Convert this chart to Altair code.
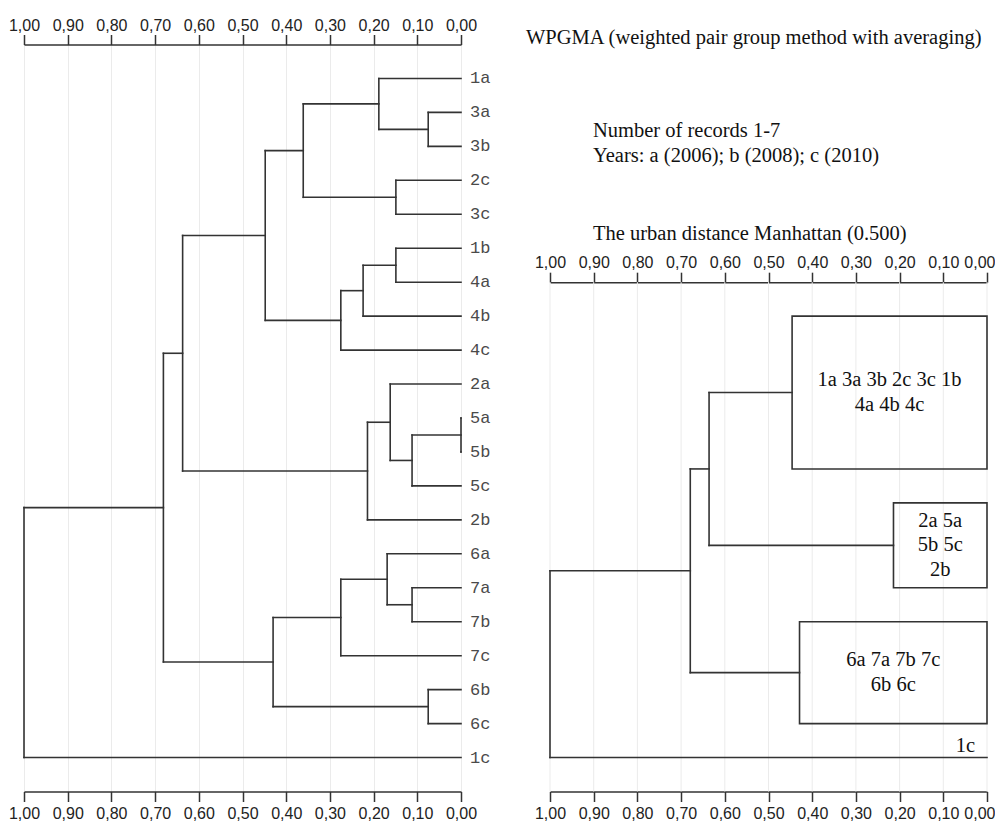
import altair as alt
import pandas as pd

# ---------------- data ----------------
tick_values = [1.0, 0.9, 0.8, 0.7, 0.6, 0.5, 0.4, 0.3, 0.2, 0.1, 0.0]

leaves = ["1a", "3a", "3b", "2c", "3c", "1b", "4a", "4b", "4c", "2a", "5a",
          "5b", "5c", "2b", "6a", "7a", "7b", "7c", "6b", "6c", "1c"]
merge_left = ["5a", "3a", "6b", "m0", "7a", "2c", "1b", "2a", "6a", "1a",
              "m7", "m6", "m11", "m8", "m9", "m13", "m14", "m16", "m17", "m18"]
merge_right = ["5b", "3b", "6c", "5c", "7b", "3c", "4a", "m3", "m4", "m1",
               "2b", "4b", "4c", "7c", "m5", "m2", "m12", "m10", "m15", "1c"]
merge_height = [0.0, 0.075, 0.075, 0.112, 0.112, 0.149, 0.149, 0.162, 0.169, 0.188,
                0.214, 0.224, 0.275, 0.275, 0.361, 0.430, 0.448, 0.637, 0.681, 1.0]

group_labels = ["1a 3a 3b 2c 3c 1b\n4a 4b 4c", "2a 5a\n5b 5c\n2b", "6a 7a 7b 7c\n6b 6c"]
group_height = [0.446, 0.214, 0.429]
group_top = [1.0, 6.5, 10.0]
group_bottom = [5.5, 9.0, 13.0]
outlier = "1c"
outlier_row = 14
rmerge_left = ["g0", "n0", "n1"]
rmerge_right = ["g1", "g2", "1c"]
rmerge_height = [0.636, 0.679, 1.0]

notes = ["WPGMA (weighted pair group method with averaging)",
         "Number of records 1-7\nYears: a (2006); b (2008); c (2010)",
         "The urban distance Manhattan (0.500)"]

# ---------------- layout constants ----------------
W, H = 437, 747
ROWS = 22
UNIT = H / ROWS          # pixels per row unit
LINE = "#333333"
SW = 1.6

# ---------------- tables ----------------
pos = {name: (0.0, i + 1) for i, name in enumerate(leaves)}
segs = []
for k, (a, b, h) in enumerate(zip(merge_left, merge_right, merge_height)):
    ha, ya = pos[a]
    hb, yb = pos[b]
    segs.append(dict(x=ha, x2=h, y=ya, y2=ya))
    segs.append(dict(x=hb, x2=h, y=yb, y2=yb))
    segs.append(dict(x=h, x2=h, y=ya, y2=yb))
    pos[f"m{k}"] = (h, (ya + yb) / 2)
seg_df = pd.DataFrame(segs)
leaf_df = pd.DataFrame({"name": leaves, "h": [0.0] * len(leaves),
                        "y": list(range(1, len(leaves) + 1))})

rpos = {f"g{i}": (group_height[i], (group_top[i] + group_bottom[i]) / 2)
        for i in range(len(group_labels))}
rpos[outlier] = (0.0, outlier_row)
rsegs = []
for k, (a, b, h) in enumerate(zip(rmerge_left, rmerge_right, rmerge_height)):
    ha, ya = rpos[a]
    hb, yb = rpos[b]
    rsegs.append(dict(x=ha, x2=h, y=ya, y2=ya))
    rsegs.append(dict(x=hb, x2=h, y=yb, y2=yb))
    rsegs.append(dict(x=h, x2=h, y=ya, y2=yb))
    rpos[f"n{k}"] = (h, (ya + yb) / 2)
rseg_df = pd.DataFrame(rsegs)
box_df = pd.DataFrame({"x": group_height, "x2": [0.0] * len(group_labels),
                       "y": group_top, "y2": group_bottom})

# one row per text line inside the boxes, centred on the box
line_gap = 24.5 / UNIT
box_lines = []
for lab, h, t, b in zip(group_labels, group_height, group_top, group_bottom):
    parts = lab.split("\n")
    n = len(parts)
    for j, p in enumerate(parts):
        box_lines.append(dict(t=p, cx=h / 2, cy=(t + b) / 2 + (j - (n - 1) / 2) * line_gap))
box_text_df = pd.DataFrame(box_lines)
out_df = pd.DataFrame({"name": [outlier], "h": [0.0], "y": [outlier_row]})
tick_df = pd.DataFrame({"v": tick_values})

# ---------------- styling ----------------
xscale = alt.Scale(domain=[1.0, 0.0], nice=False, zero=False)
yl = alt.Scale(domain=[0, ROWS], reverse=True, nice=False, zero=False)
yr = alt.Scale(domain=[-7, ROWS - 7], reverse=True, nice=False, zero=False)
label_expr = "replace(format(datum.value, '.2f'), '.', ',')"


def make_axis(orient, grid=False, offset=None, pad=2, flush_last=False):
    kw = dict(orient=orient, values=tick_values, labelExpr=label_expr, title=None,
              grid=grid, gridColor="#ebebeb", gridWidth=1,
              domainColor=LINE, domainWidth=1.5, tickColor=LINE, tickWidth=1.5,
              tickSize=10, labelFont="Liberation Sans", labelFontSize=16,
              labelColor="#222222", labelPadding=pad, labelFlush=False,
              labelOverlap=False)
    if flush_last:
        kw["labelAlign"] = {"condition": {"test": "datum.value == 0", "value": "right"},
                            "value": "center"}
        kw["labelOffset"] = {"condition": {"test": "datum.value == 0", "value": 8},
                             "value": 0}
    if offset is not None:
        kw["offset"] = offset
    return alt.Axis(**kw)


TOP_PAD = 1.5
BOTTOM_PAD = 4

# ---------------- left panel ----------------
left_segs = alt.Chart(seg_df).mark_rule(color=LINE, strokeWidth=SW, strokeCap="square").encode(
    x=alt.X("x:Q", scale=xscale, axis=make_axis("top", pad=TOP_PAD)),
    x2="x2:Q",
    y=alt.Y("y:Q", scale=yl, axis=None),
    y2="y2:Q",
)
left_text = alt.Chart(leaf_df).mark_text(
    align="left", baseline="middle", dx=9, font="Liberation Mono",
    fontSize=17, color="#4a4a4a"
).encode(
    x=alt.X("h:Q", scale=xscale, axis=make_axis("bottom", grid=True, pad=BOTTOM_PAD)),
    y=alt.Y("y:Q", scale=yl, axis=None),
    text="name:N",
)
left = alt.layer(left_segs, left_text).resolve_axis(x="independent").properties(width=W, height=H)

# ---------------- right panel ----------------
top_offset = -(7 * UNIT)
grid = alt.Chart(tick_df).mark_rule(color="#ebebeb", strokeWidth=1).encode(
    x=alt.X("v:Q", scale=xscale,
            axis=make_axis("top", offset=top_offset, pad=TOP_PAD, flush_last=True)),
    y=alt.datum(0, scale=yr, axis=None),
    y2=alt.datum(ROWS - 7),
)
right_segs = alt.Chart(rseg_df).mark_rule(color=LINE, strokeWidth=SW, strokeCap="square").encode(
    x=alt.X("x:Q", scale=xscale, axis=make_axis("bottom", pad=BOTTOM_PAD, flush_last=True)),
    x2="x2:Q",
    y=alt.Y("y:Q", scale=yr, axis=None),
    y2="y2:Q",
)
boxes = alt.Chart(box_df).mark_rect(filled=False, stroke=LINE, strokeWidth=SW).encode(
    x=alt.X("x:Q", scale=xscale, axis=None),
    x2="x2:Q",
    y=alt.Y("y:Q", scale=yr, axis=None),
    y2="y2:Q",
)
box_text = alt.Chart(box_text_df).mark_text(
    align="center", baseline="middle",
    font="Liberation Serif", fontSize=20.5, color="#111111"
).encode(
    x=alt.X("cx:Q", scale=xscale, axis=None),
    y=alt.Y("cy:Q", scale=yr, axis=None),
    text="t:N",
)
out_text = alt.Chart(out_df).mark_text(
    align="right", baseline="alphabetic", dx=-12, dy=-6,
    font="Liberation Serif", fontSize=20.5, color="#111111"
).encode(
    x=alt.X("h:Q", scale=xscale, axis=None),
    y=alt.Y("y:Q", scale=yr, axis=None),
    text="name:N",
)


def note(i, x, y):
    return alt.Chart(pd.DataFrame({"t": [notes[i]]})).mark_text(
        align="left", baseline="alphabetic", lineBreak="\n", lineHeight=25,
        font="Liberation Serif", fontSize=20.5, color="#111111"
    ).encode(x=alt.value(x), y=alt.value(y), text="t:N")


right = alt.layer(
    grid, right_segs, boxes, box_text, out_text,
    note(0, -24, -1), note(1, 43, 92), note(2, 43, 195)
).resolve_axis(x="independent").properties(width=W, height=H)

chart = alt.hconcat(left, right, spacing=89, bounds="flush").properties(
    padding={"left": 0, "top": 8.5, "right": 0, "bottom": 0}
).configure_view(stroke=None)

chart.save("out.html", embed_options={"renderer": "svg", "actions": False})
